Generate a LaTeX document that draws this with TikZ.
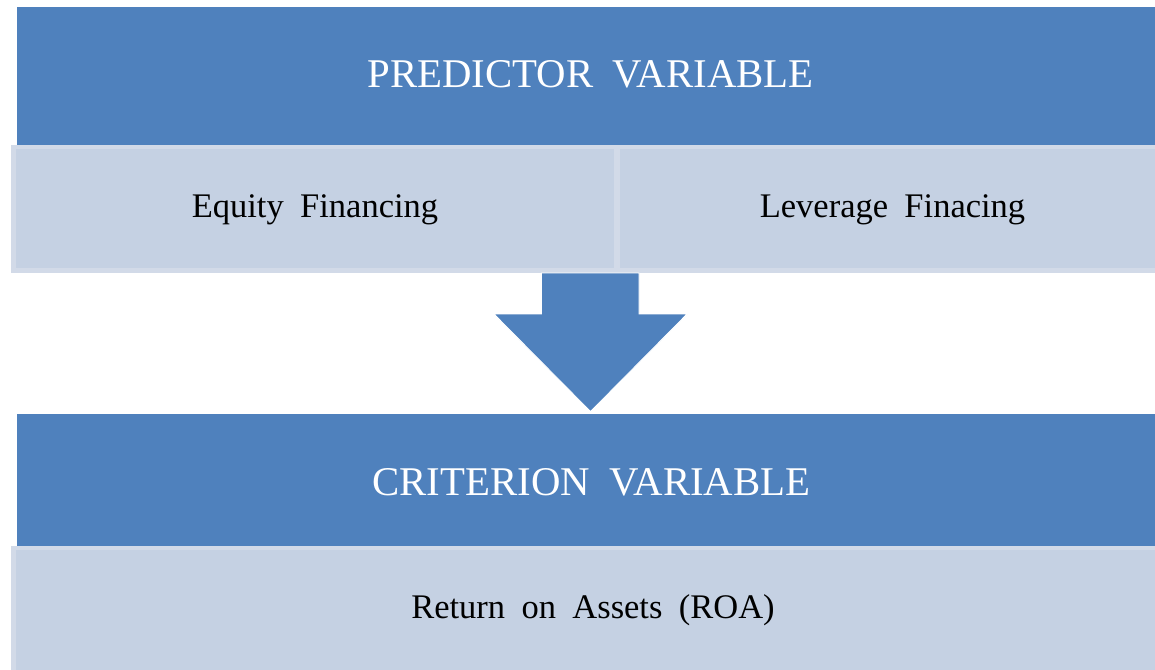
\documentclass[tikz,border=0pt]{standalone}
\usepackage{fontspec}
\setmainfont{Liberation Serif}[WordSpace=1.9]
\definecolor{headblue}{RGB}{79,129,189}
\definecolor{cellfill}{RGB}{197,209,227}
\definecolor{cellrim}{RGB}{210,218,232}
\tikzset{
  header/.style={fill=headblue, draw=white, line width=0.6pt, inner sep=0, anchor=north west},
  rim/.style={fill=cellrim, inner sep=0, anchor=north west},
  cell/.style={fill=cellfill, inner sep=0, anchor=north west},
  headtext/.style={text=white, inner sep=0, anchor=base, font=\fontsize{40.8}{41}\selectfont},
  celltext/.style={text=black, inner sep=0, anchor=base, font=\fontsize{34.5}{35}\selectfont},
  bigarrow/.style={fill=headblue, draw=white, line width=0.8pt, line join=miter}
}
\begin{document}
\begin{tikzpicture}[x=1pt,y=-1pt]
\useasboundingbox (0,0) rectangle (1155,669);
\fill[white] (0,0) rectangle (1155,669);

% predictor block
\node[header, minimum width=1145pt, minimum height=139pt] (predbox) at (16,6) {};
\node[rim, minimum width=1150pt, minimum height=128pt] (predrow) at (11,145) {};
\node[cell, minimum width=598pt, minimum height=119pt] (eqcell) at (16,149) {};
\node[cell, minimum width=540pt, minimum height=119pt] (levcell) at (620,149) {};

\node[headtext] (predtext) at (590.5,87) {PREDICTOR VARIABLE};
\node[celltext] (eqtext) at (315,217.5) {Equity Financing};
\node[celltext] (levtext) at (892.5,217.5) {Leverage Finacing};

% criterion block
\node[header, minimum width=1145pt, minimum height=133pt] (critbox) at (16,413) {};
\node[rim, minimum width=1150pt, minimum height=130pt] (critrow) at (11,546) {};
\node[cell, minimum width=1145pt, minimum height=125pt] (roacell) at (16,550) {};

\node[headtext] (crittext) at (591.5,495) {CRITERION VARIABLE};
\node[celltext] (roatext) at (593,618) {Return on Assets (ROA)};

% block arrow from predictors to criterion
\draw[bigarrow] (541.5,273) -- (639,273) -- (639,314) -- (687,314)
  -- (590.5,411.5) -- (494,314) -- (541.5,314) -- cycle;
\end{tikzpicture}
\end{document}
